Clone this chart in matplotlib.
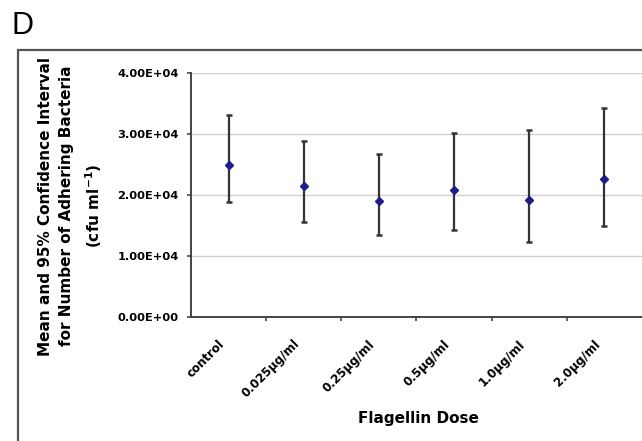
import matplotlib
matplotlib.use("Agg")
import matplotlib.pyplot as plt
from matplotlib.patches import Rectangle
import numpy as np

categories = ["control", "0.025\u00b5g/ml", "0.25\u00b5g/ml", "0.5\u00b5g/ml", "1.0\u00b5g/ml", "2.0\u00b5g/ml"]
means = [2.49e4, 2.14e4, 1.90e4, 2.09e4, 1.92e4, 2.26e4]
upper = [3.32e4, 2.89e4, 2.67e4, 3.02e4, 3.06e4, 3.43e4]
lower = [1.89e4, 1.56e4, 1.34e4, 1.42e4, 1.22e4, 1.49e4]
yticks = [0, 1e4, 2e4, 3e4, 4e4]
ytick_labels = ["0.00E+00", "1.00E+04", "2.00E+04", "3.00E+04", "4.00E+04"]

plt.rcParams['font.family'] = ['DejaVu Sans']

W, H = 642, 441
fig = plt.figure(figsize=(W / 100, H / 100), dpi=100)

# outer frame (clipped by figure edges)
fig.patches.append(Rectangle((18 / W, -0.05), 1.1, (H - 50) / H + 0.05,
                             transform=fig.transFigure, fill=False,
                             edgecolor='#555555', linewidth=1.6))
fig.text(12 / W, (H - 26) / H, "D", fontsize=22, va='center', ha='left',
         family='Liberation Sans')

ax = fig.add_axes([191 / W, (H - 316.7) / H, (642 - 191) / W, (316.7 - 73.3) / H])
x = np.arange(len(categories))
m = np.array(means)
yerr = np.vstack([m - np.array(lower), np.array(upper) - m])
ax.errorbar(x, m, yerr=yerr, fmt='D', color='#1c1c8c', markersize=4,
            ecolor='#333333', elinewidth=1.6, capsize=2.5, capthick=1.8, zorder=3)

ax.set_xlim(-0.5, len(categories) - 0.5)
ax.set_ylim(0, 4e4)
ax.set_yticks(yticks)
ax.set_yticklabels(ytick_labels, fontsize=8.2, fontweight='bold')
ax.set_xticks(x)
ax.set_xticklabels([])
for xi, lab in zip(x, categories):
    ax.annotate(lab, xy=(xi, 0), xycoords=('data', 'axes fraction'),
                xytext=(-7.5, -15), textcoords='offset points',
                rotation=45, ha='right', va='top', rotation_mode='anchor',
                fontsize=8.6, fontweight='bold', annotation_clip=False)
ax.tick_params(axis='x', length=0)
ax.set_xticks(np.arange(0.5, len(categories) - 0.5, 1), minor=True)
ax.tick_params(axis='x', which='minor', length=3, width=1.2, color='#444444', direction='out')
ax.tick_params(axis='y', length=3, width=1.2, color='#444444', direction='out', pad=6)
ax.grid(axis='y', color='#d0d0d0', linewidth=1)
ax.set_axisbelow(True)
for s in ['top', 'right']:
    ax.spines[s].set_visible(False)
for s in ['left', 'bottom']:
    ax.spines[s].set_color('#444444')
    ax.spines[s].set_linewidth(1.4)

fig.text(418 / W, (H - 418) / H, "Flagellin Dose", fontsize=11, fontweight='bold',
         ha='center', va='center')
fig.text(71 / W, (H - 206) / H,
         "Mean and 95% Confidence Interval\nfor Number of Adhering Bacteria\n(cfu ml$^{\\mathbf{-1}}$)",
         rotation=90, ha='center', va='center', fontsize=11, fontweight='bold',
         linespacing=1.55)

fig.savefig("out.png", dpi=100)
